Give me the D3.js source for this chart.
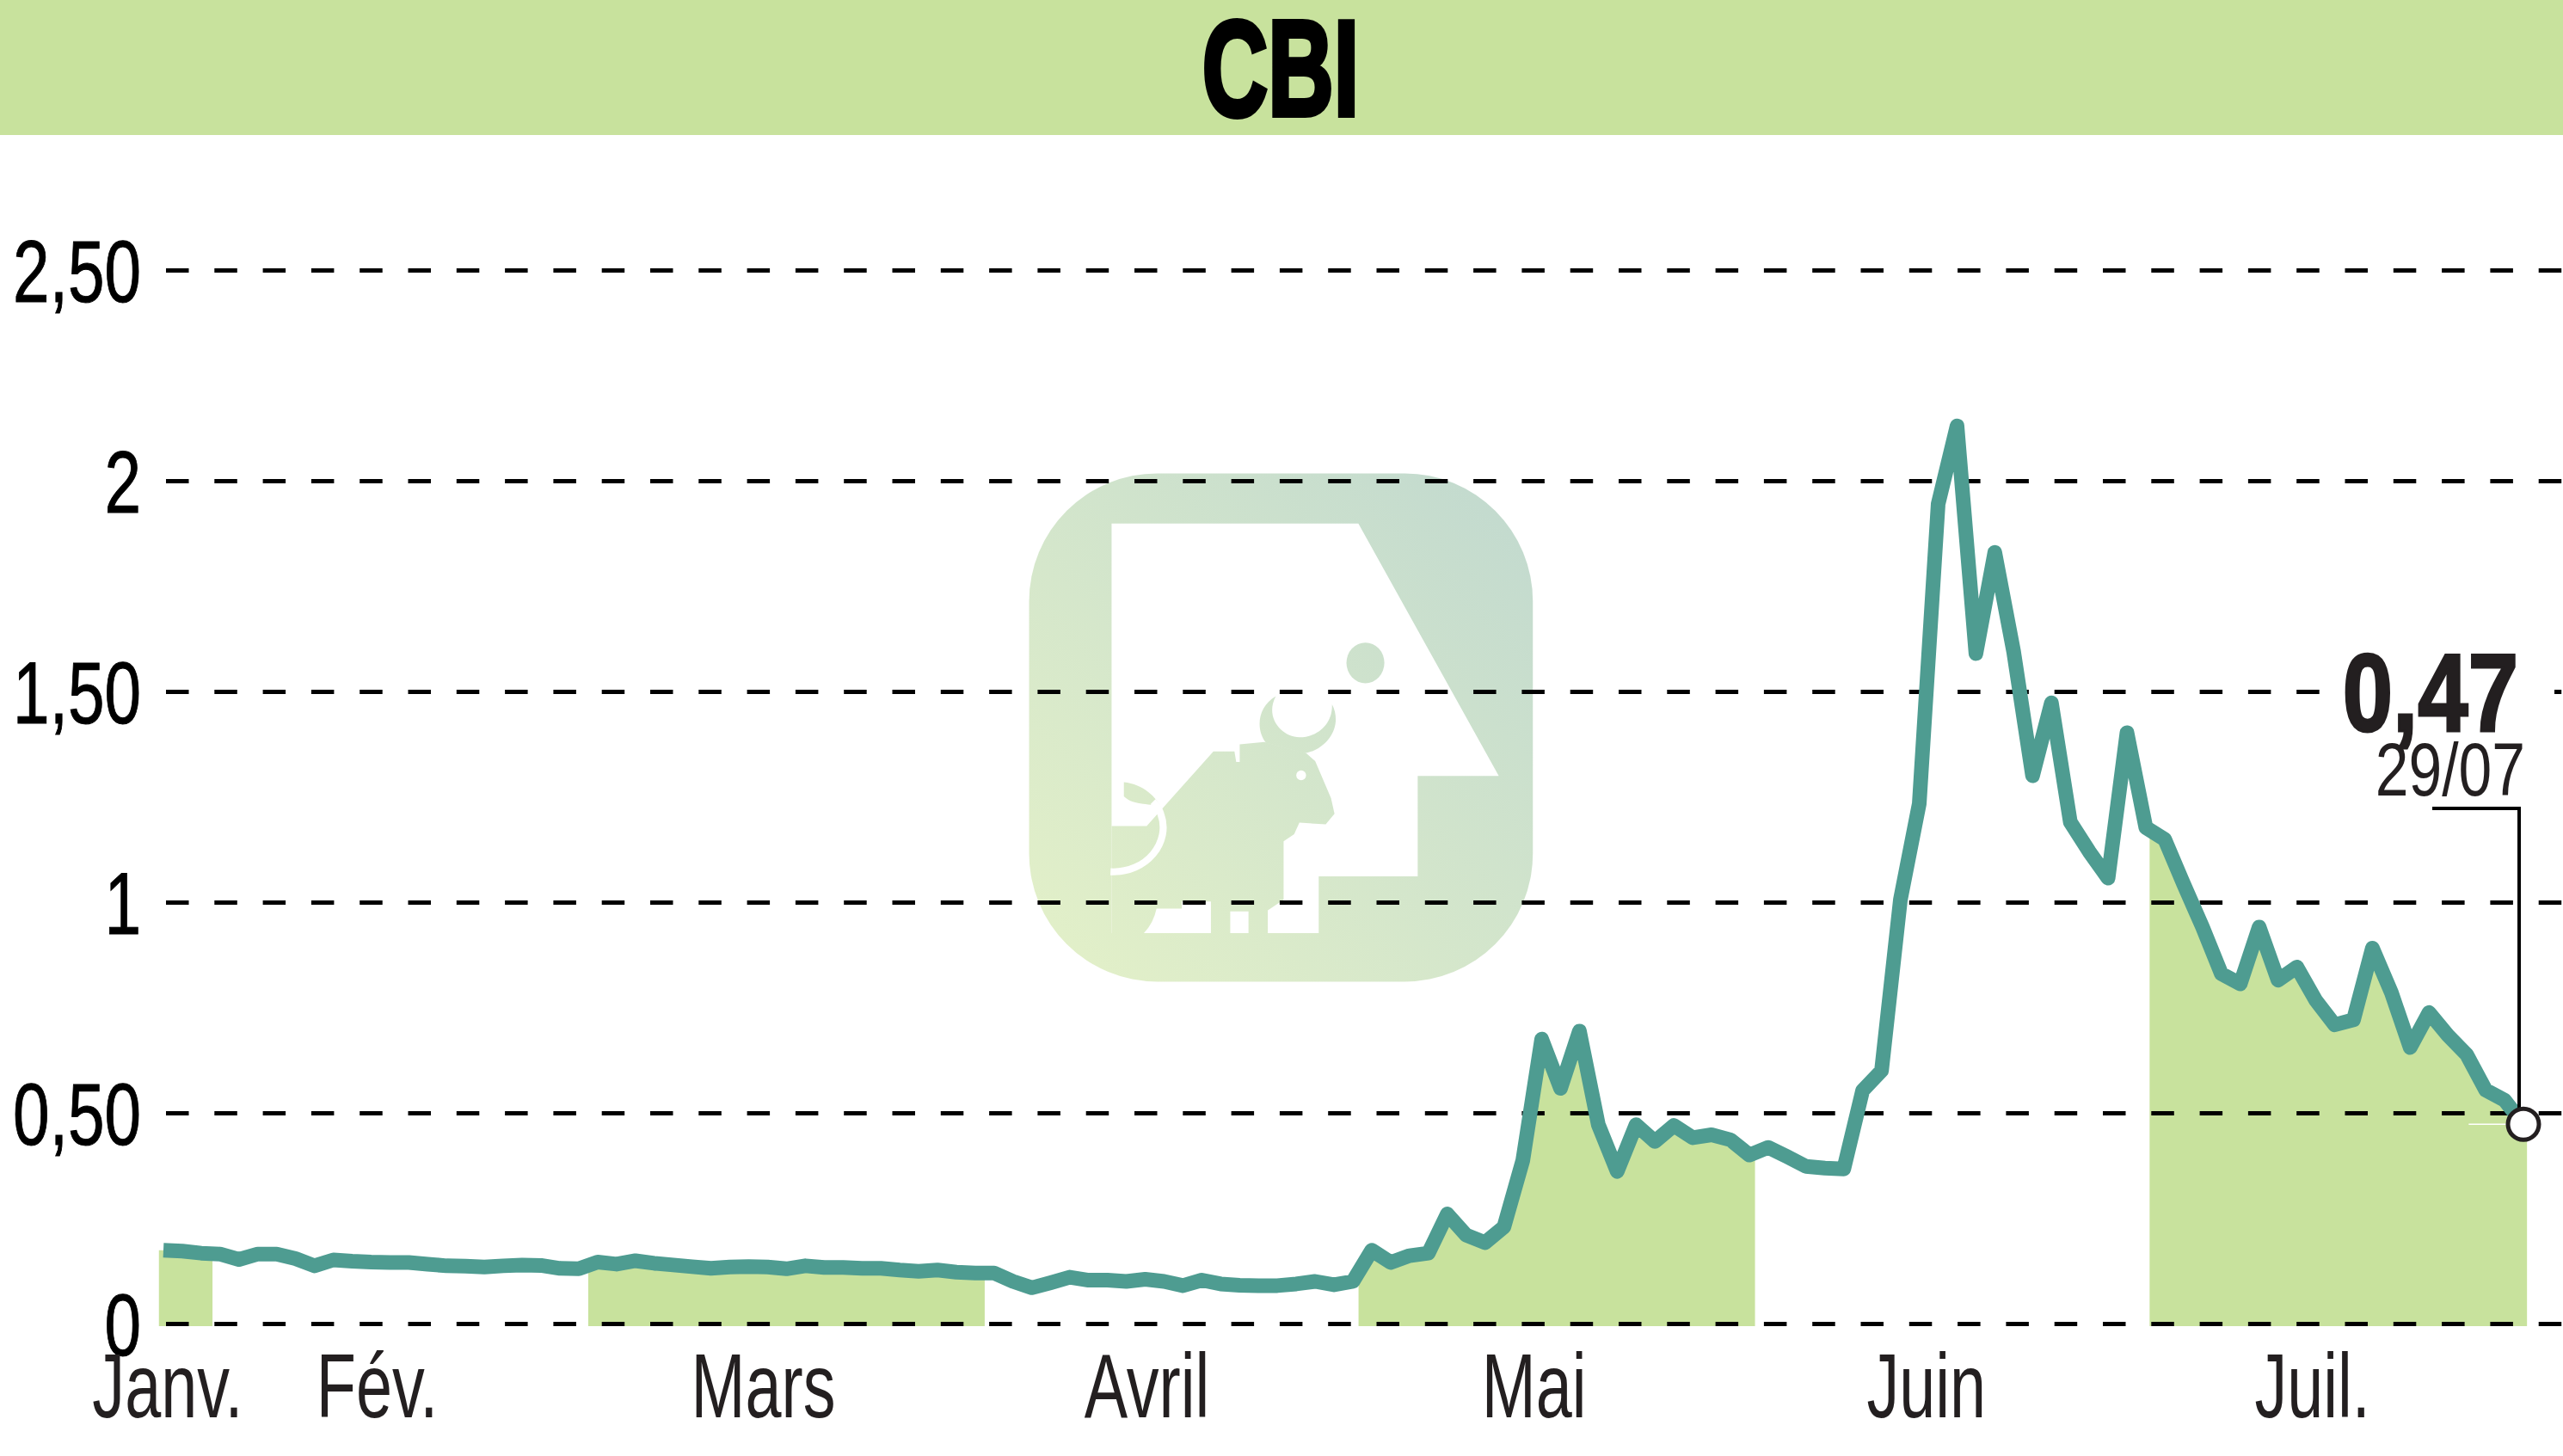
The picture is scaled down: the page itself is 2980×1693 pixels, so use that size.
<!DOCTYPE html>
<html>
<head>
<meta charset="utf-8">
<script src="https://cdn.jsdelivr.net/npm/d3@7"></script>
<style>
  html, body { margin: 0; background: #fff; }
  svg { display: block; }
  text { font-family: "Liberation Sans", sans-serif; fill: #231f20; }
</style>
</head>
<body>
<div id="chart"></div>
<script>
var svgWidth = 2980;
var svgHeight = 1693;

var title = "CBI";
var lastLabel = "0,47";
var lastDate = "29/07";

// daily closes
var prices = [
  0.174, 0.172, 0.167, 0.165, 0.152, 0.165, 0.165, 0.154, 0.137, 0.151,
  0.148, 0.146, 0.145, 0.145, 0.141, 0.137, 0.136, 0.134, 0.137, 0.139,
  0.138, 0.131, 0.130, 0.146, 0.141, 0.149, 0.143, 0.139, 0.135, 0.131,
  0.134, 0.135, 0.134, 0.130, 0.137, 0.133, 0.133, 0.131, 0.131, 0.127,
  0.124, 0.127, 0.122, 0.120, 0.120, 0.100, 0.085, 0.097, 0.110, 0.103,
  0.103, 0.100, 0.105, 0.100, 0.090, 0.103, 0.094, 0.091, 0.090, 0.090,
  0.094, 0.100, 0.092, 0.100, 0.174, 0.145, 0.161, 0.167, 0.260, 0.210,
  0.192, 0.229, 0.387, 0.675, 0.558, 0.694, 0.472, 0.361, 0.472, 0.432,
  0.470, 0.441, 0.448, 0.436, 0.400, 0.418, 0.396, 0.373, 0.369, 0.367,
  0.553, 0.600, 1.006, 1.234, 1.945, 2.130, 1.590, 1.830, 1.594, 1.300,
  1.473, 1.190, 1.120, 1.057, 1.402, 1.177, 1.149, 1.043, 0.941, 0.830,
  0.806, 0.941, 0.815, 0.846, 0.767, 0.709, 0.721, 0.891, 0.786, 0.655,
  0.738, 0.684, 0.638, 0.554, 0.530, 0.473
];

var yTicks = [0, 0.5, 1, 1.5, 2, 2.5];
var yTickLabels = ["0", "0,50", "1", "1,50", "2", "2,50"];

var monthLabels = ["Janv.", "Fév.", "Mars", "Avril", "Mai", "Juin", "Juil."];
var monthLabelAt = [0.2, 11.3, 31.75, 52.07, 72.57, 93.35, 113.8];

// shaded months, in day index
var bandStart = [-0.25, 22.5, 63.3, 105.2];
var bandEnd = [2.6, 43.5, 84.3, 125.2];

var green = "#c8e29d";
var teal = "#4e9c91";
var ink = "#231f20";

var x = d3.scaleLinear().domain([0, prices.length - 1]).range([190, 2934]);
var y = d3.scaleLinear().domain([0, 2.5]).range([1539, 314]);

var svg = d3.select("#chart").append("svg")
  .attr("width", svgWidth)
  .attr("height", svgHeight);

var defs = svg.append("defs");

var grad = defs.append("linearGradient")
  .attr("id", "logoGrad")
  .attr("gradientUnits", "userSpaceOnUse")
  .attr("x1", 65).attr("y1", 1498)
  .attr("x2", 1500).attr("y2", 50);
grad.append("stop").attr("offset", 0).attr("stop-color", "#e4f1c8");
grad.append("stop").attr("offset", 1).attr("stop-color", "#c1d9cf");

defs.append("clipPath").attr("id", "bands")
  .selectAll("rect")
  .data(bandStart)
  .enter()
  .append("rect")
  .attr("x", d => x(d))
  .attr("y", 0)
  .attr("width", (d, i) => x(bandEnd[i]) - x(d))
  .attr("height", svgHeight);

// header
svg.append("rect")
  .attr("width", svgWidth)
  .attr("height", 157)
  .attr("fill", green);

// the original face is condensed, so the Liberation glyphs get squeezed
svg.append("text")
  .attr("transform", "translate(1489,134) scale(0.67,1)")
  .attr("text-anchor", "middle")
  .attr("font-size", 158)
  .attr("font-weight", "bold")
  .attr("stroke", "#000")
  .attr("stroke-width", 6)
  .style("fill", "#000")
  .text(title);

// watermark logo
var logo = svg.append("g")
  .attr("transform", "translate(1170,530) scale(0.40816)");

logo.append("rect")
  .attr("x", 65).attr("y", 50)
  .attr("width", 1435).attr("height", 1448)
  .attr("rx", 365)
  .attr("fill", "url(#logoGrad)");

logo.append("path")
  .attr("fill", "#fff")
  .attr("d", "M300,193 L1003,193 L1403,912 L1172,912 L1172,1198 L890,1198 L890,1360 L300,1360 Z");

// bull body and ground
logo.append("path")
  .attr("fill", "url(#logoGrad)")
  .attr("d", "M300,1055 L400,1055 L590,842 L650,842 L655,872 L665,872 L665,822 L735,815 L855,848 L880,870 L925,975 L935,1020 L910,1050 L835,1045 L820,1078 L790,1098 L790,1265 L745,1295 L745,1360 L690,1360 L690,1298 L638,1298 L638,1360 L583,1360 L583,1270 L500,1270 L500,1290 L428,1290 Q420,1330 392,1360 L300,1360 Z");

// horns
logo.append("path")
  .attr("fill", "url(#logoGrad)")
  .attr("d", "M768,685 C715,715 710,780 740,818 L850,848 C915,835 960,770 928,708 C930,770 880,802 835,802 C785,802 735,745 768,685 Z");

logo.append("circle")
  .attr("cx", 840).attr("cy", 910).attr("r", 14)
  .attr("fill", "#fff");

logo.append("ellipse")
  .attr("cx", 1023).attr("cy", 590)
  .attr("rx", 54).attr("ry", 58)
  .attr("fill", "url(#logoGrad)");

// tail
logo.append("path")
  .attr("fill", "url(#logoGrad)")
  .attr("d", "M335,930 C390,935 430,975 442,1005 C415,985 365,1000 335,970 Z");

logo.append("path")
  .attr("fill", "none")
  .attr("stroke", "#fff")
  .attr("stroke-width", 20)
  .attr("d", "M297,1185 C400,1190 470,1100 440,1020 C435,1005 428,995 418,985");

// shaded area under the line, only on every other month
var areaPoints = prices.map((d, i) => [i, d]);
areaPoints.unshift([bandStart[0], prices[0]]);
areaPoints.push([bandEnd[bandEnd.length - 1], prices[prices.length - 1]]);

var areaGen = d3.area()
  .x(d => x(d[0]))
  .y0(y(0) + 3)
  .y1(d => y(d[1]));

svg.append("path")
  .datum(areaPoints)
  .attr("clip-path", "url(#bands)")
  .attr("fill", green)
  .attr("d", areaGen);

// left over guide from the last value
svg.append("line")
  .attr("x1", x(122.1)).attr("x2", x(124.1))
  .attr("y1", y(prices[prices.length - 1]))
  .attr("y2", y(prices[prices.length - 1]))
  .attr("stroke", "#fff")
  .attr("stroke-width", 1.5);

// y axis with dashed gridlines
var leftAxis = d3.axisLeft(y)
  .tickValues(yTicks)
  .tickSize(-(svgWidth - 193))
  .tickFormat((d, i) => yTickLabels[i]);

var yAxis = svg.append("g")
  .attr("transform", "translate(193,0)")
  .call(leftAxis);

yAxis.select(".domain").remove();
yAxis.selectAll(".tick line")
  .attr("stroke", "#000")
  .attr("stroke-width", 5)
  .attr("stroke-dasharray", "26.5 29.8");
yAxis.selectAll(".tick text")
  .attr("x", 0)
  .attr("dy", 0)
  .attr("transform", "translate(-29,36) scale(0.75,1)")
  .attr("font-size", 102)
  .attr("stroke", "#000")
  .attr("stroke-width", 1)
  .style("fill", "#000");

// x axis, month names only
var bottomAxis = d3.axisBottom(x)
  .tickValues(monthLabelAt)
  .tickSize(0)
  .tickFormat((d, i) => monthLabels[i]);

var xAxis = svg.append("g")
  .attr("transform", "translate(0,1648)")
  .call(bottomAxis);

xAxis.select(".domain").remove();
xAxis.selectAll(".tick text")
  .attr("y", 0)
  .attr("dy", 0)
  .attr("transform", "scale(0.72,1)")
  .attr("font-size", 105)
  .style("fill", ink);

// price line
var lineGen = d3.line()
  .x((d, i) => x(i))
  .y(d => y(d));

svg.append("path")
  .datum(prices)
  .attr("fill", "none")
  .attr("stroke", teal)
  .attr("stroke-width", 17)
  .attr("stroke-linejoin", "round")
  .attr("d", lineGen);

// last value callout
svg.append("rect")
  .attr("x", 2698).attr("y", 750)
  .attr("width", 272).attr("height", 110)
  .attr("fill", "#fff");

svg.append("text")
  .attr("transform", "translate(2928,850) scale(0.82,1)")
  .attr("text-anchor", "end")
  .attr("font-size", 128)
  .attr("font-weight", "bold")
  .attr("stroke", ink)
  .attr("stroke-width", 3)
  .text(lastLabel);

svg.append("text")
  .attr("transform", "translate(2936,925) scale(0.8,1)")
  .attr("text-anchor", "end")
  .attr("font-size", 87)
  .text(lastDate);

svg.append("path")
  .attr("fill", "none")
  .attr("stroke", "#000")
  .attr("stroke-width", 4)
  .attr("d", "M2828,940 H2929 V1290");

svg.append("circle")
  .attr("cx", x(prices.length - 1))
  .attr("cy", y(prices[prices.length - 1]))
  .attr("r", 18)
  .attr("fill", "#fff")
  .attr("stroke", ink)
  .attr("stroke-width", 5);
</script>
</body>
</html>
